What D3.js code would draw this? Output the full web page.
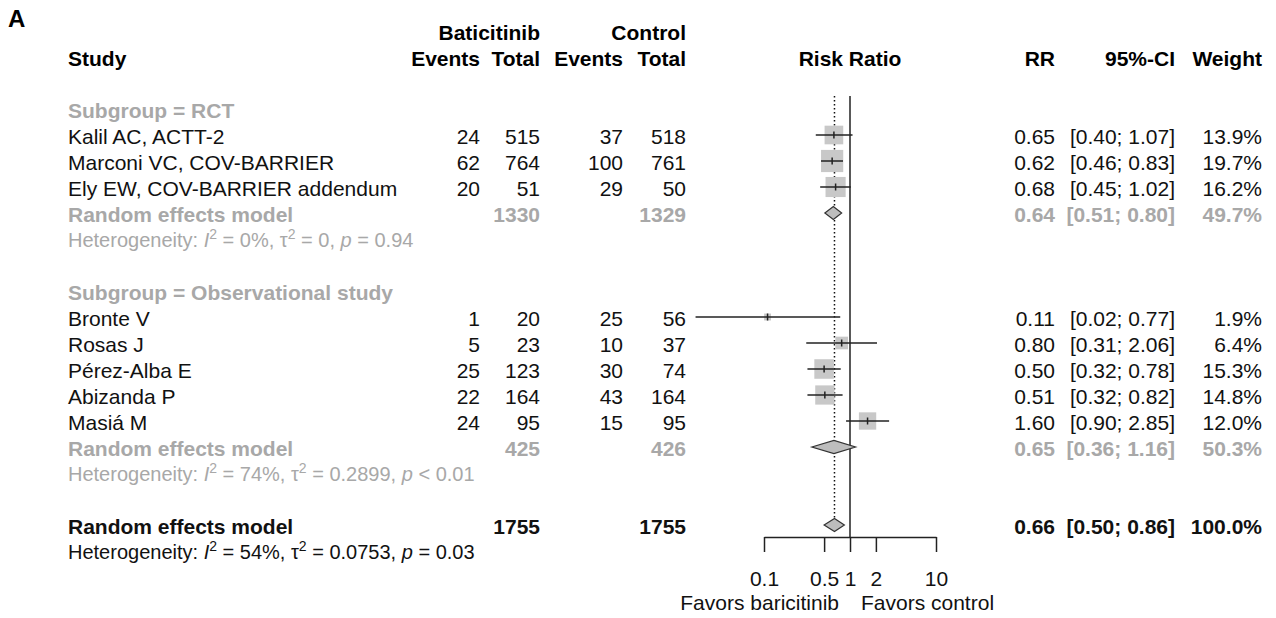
<!DOCTYPE html>
<html>
<head>
<meta charset="utf-8">
<script src="https://cdn.jsdelivr.net/npm/d3@7"></script>
<style>
  body { margin: 0; background: #fff; }
  svg { font-family: "Liberation Sans", Arial, sans-serif; }
</style>
</head>
<body>
<svg></svg>
<script>
// study level data
let studies = ["Kalil AC, ACTT-2", "Marconi VC, COV-BARRIER", "Ely EW, COV-BARRIER addendum",
  "Bronte V", "Rosas J", "Pérez-Alba E", "Abizanda P", "Masiá M"];
let studyGroup = [0, 0, 0, 1, 1, 1, 1, 1];
let eventsBari = [24, 62, 20, 1, 5, 25, 22, 24];
let totalBari = [515, 764, 51, 20, 23, 123, 164, 95];
let eventsCtrl = [37, 100, 29, 25, 10, 30, 43, 15];
let totalCtrl = [518, 761, 50, 56, 37, 74, 164, 95];
let rr = [0.65, 0.62, 0.68, 0.11, 0.80, 0.50, 0.51, 1.60];
let ciLow = [0.40, 0.46, 0.45, 0.016, 0.31, 0.32, 0.32, 0.90];
let ciHigh = [1.07, 0.83, 1.02, 0.77, 2.06, 0.78, 0.82, 2.85];
let weight = [13.9, 19.7, 16.2, 1.9, 6.4, 15.3, 14.8, 12.0];

// subgroup summaries
let groups = ["RCT", "Observational study"];
let groupTotalBari = [1330, 425];
let groupTotalCtrl = [1329, 426];
let groupRR = [0.64, 0.65];
let groupLow = [0.51, 0.36];
let groupHigh = [0.80, 1.16];
let groupWeight = [49.7, 50.3];

// overall summary
let overallTotalBari = 1755;
let overallTotalCtrl = 1755;
let overallRR = 0.66;
let overallLow = 0.50;
let overallHigh = 0.86;
let overallWeight = 100.0;

// heterogeneity: subgroup RCT, subgroup observational, overall
let hetI2 = ["0%", "74%", "54%"];
let hetTau2 = ["0", "0.2899", "0.0753"];
let hetP = ["= 0.94", "< 0.01", "= 0.03"];

let tickValues = [0.1, 0.5, 1, 2, 10];

let width = 1276;
let height = 618;
let grey = "#a8a8a8";
let fs = 21;

let svg = d3.select("svg").attr("width", width).attr("height", height);

let xScale = d3.scaleLog().domain([0.1, 10]).range([764, 936]);
let yScale = d3.scaleLinear().domain([0, 1]).range([109, 135]);

// build the rows
let rows = [];
let r = 0;
groups.forEach((g, gi) => {
  rows.push({ type: "subgroup", row: r++, label: "Subgroup = " + g });
  studies.forEach((s, i) => {
    if (studyGroup[i] !== gi) return;
    rows.push({ type: "study", row: r++, label: s, eb: eventsBari[i], tb: totalBari[i],
      ec: eventsCtrl[i], tc: totalCtrl[i], rr: rr[i], lo: ciLow[i], hi: ciHigh[i], w: weight[i] });
  });
  rows.push({ type: "groupsum", row: r++, label: "Random effects model", tb: groupTotalBari[gi],
    tc: groupTotalCtrl[gi], rr: groupRR[gi], lo: groupLow[gi], hi: groupHigh[gi], w: groupWeight[gi] });
  rows.push({ type: "het", row: r++, h: gi });
  r++;
});
rows.push({ type: "overall", row: r++, label: "Random effects model", tb: overallTotalBari,
  tc: overallTotalCtrl, rr: overallRR, lo: overallLow, hi: overallHigh, w: overallWeight });
rows.push({ type: "het", row: r++, h: 2 });

let overallRow = rows.find(d => d.type === "overall").row;

// panel letter
svg.append("text").attr("x", 8).attr("y", 27)
  .attr("font-size", 24).attr("font-weight", "bold").text("A");

// column headers
let header = svg.append("g").attr("font-weight", "bold").attr("font-size", fs);
let hy1 = yScale(-3) + 9;
let hy2 = yScale(-2) + 9;
header.append("text").attr("x", 540).attr("y", hy1).attr("text-anchor", "end").text("Baticitinib");
header.append("text").attr("x", 686).attr("y", hy1).attr("text-anchor", "end").text("Control");
header.append("text").attr("x", 68).attr("y", hy2).text("Study");
[["Events", 480], ["Total", 540], ["Events", 623], ["Total", 686], ["RR", 1055], ["95%-CI", 1175], ["Weight", 1262]]
  .forEach(h => {
    header.append("text").attr("x", h[1]).attr("y", hy2).attr("text-anchor", "end").text(h[0]);
  });
header.append("text").attr("x", xScale(1)).attr("y", hy2).attr("text-anchor", "middle").text("Risk Ratio");

// reference lines
svg.append("line")
  .attr("x1", xScale(overallRR)).attr("x2", xScale(overallRR))
  .attr("y1", yScale(-0.5)).attr("y2", yScale(overallRow) - 6)
  .attr("stroke", "#111").attr("stroke-width", 1.5).attr("stroke-dasharray", "1.5,2.5");

svg.append("line")
  .attr("x1", xScale(1)).attr("x2", xScale(1))
  .attr("y1", yScale(-0.5)).attr("y2", 537)
  .attr("stroke", "#222").attr("stroke-width", 1.5);

// text columns
let fmt2 = d3.format(".2f");
let fmtW = d => d.toFixed(1) + "%";
let ciText = (lo, hi) => "[" + fmt2(lo) + "; " + fmt2(hi) + "]";

let textRows = svg.append("g").attr("font-size", fs);

rows.forEach(d => {
  let ty = yScale(d.row) + 9;
  if (d.type === "het") {
    let t = textRows.append("text").attr("x", 68).attr("y", yScale(d.row) + 8)
      .attr("font-size", 20).attr("fill", d.h < 2 ? grey : "#111");
    t.append("tspan").text("Heterogeneity: ");
    t.append("tspan").attr("font-style", "italic").text("I");
    t.append("tspan").attr("font-size", 14).attr("dy", -8).text("2");
    t.append("tspan").attr("dy", 8).text(" = " + hetI2[d.h] + ", \u03c4");
    t.append("tspan").attr("font-size", 14).attr("dy", -8).text("2");
    t.append("tspan").attr("dy", 8).text(" = " + hetTau2[d.h] + ", ");
    t.append("tspan").attr("font-style", "italic").text("p");
    t.append("tspan").text(" " + hetP[d.h]);
    return;
  }
  let color = (d.type === "subgroup" || d.type === "groupsum") ? grey : "#111";
  let bold = d.type === "study" ? "normal" : "bold";
  let g = textRows.append("g").attr("fill", color).attr("font-weight", bold);
  g.append("text").attr("x", 68).attr("y", ty).text(d.label);
  if (d.type === "subgroup") return;
  let cells = [];
  if (d.type === "study") cells.push([d.eb, 480], [d.ec, 623]);
  cells.push([d.tb, 540], [d.tc, 686], [fmt2(d.rr), 1055], [ciText(d.lo, d.hi), 1175], [fmtW(d.w), 1262]);
  cells.forEach(c => {
    g.append("text").attr("x", c[1]).attr("y", ty).attr("text-anchor", "end").text(c[0]);
  });
});

// study squares and CIs
let studyRows = rows.filter(d => d.type === "study");
let marks = svg.append("g");

marks.selectAll("rect")
  .data(studyRows)
  .enter()
  .append("rect")
  .attr("x", d => xScale(d.rr) - 2.5 * Math.sqrt(d.w))
  .attr("y", d => yScale(d.row) - 2.5 * Math.sqrt(d.w))
  .attr("width", d => 5 * Math.sqrt(d.w))
  .attr("height", d => 5 * Math.sqrt(d.w))
  .attr("fill", "#c8c8c8");

marks.selectAll("line.ci")
  .data(studyRows)
  .enter()
  .append("line")
  .attr("class", "ci")
  .attr("x1", d => xScale(d.lo))
  .attr("x2", d => xScale(d.hi))
  .attr("y1", d => yScale(d.row))
  .attr("y2", d => yScale(d.row))
  .attr("stroke", "#222").attr("stroke-width", 1.5);

marks.selectAll("line.pt")
  .data(studyRows)
  .enter()
  .append("line")
  .attr("class", "pt")
  .attr("x1", d => xScale(d.rr))
  .attr("x2", d => xScale(d.rr))
  .attr("y1", d => yScale(d.row) - 3.5)
  .attr("y2", d => yScale(d.row) + 3.5)
  .attr("stroke", "#222").attr("stroke-width", 1.5);

// diamonds
let diamondRows = rows.filter(d => d.type === "groupsum" || d.type === "overall");
marks.selectAll("path.diamond")
  .data(diamondRows)
  .enter()
  .append("path")
  .attr("class", "diamond")
  .attr("d", d => {
    let yy = yScale(d.row), h = 6.5;
    return "M" + xScale(d.lo) + "," + yy + "L" + xScale(d.rr) + "," + (yy - h) +
      "L" + xScale(d.hi) + "," + yy + "L" + xScale(d.rr) + "," + (yy + h) + "Z";
  })
  .attr("fill", "#bdbdbd").attr("stroke", "#333").attr("stroke-width", 1.2);

// x axis
let xAxis = d3.axisBottom(xScale)
  .tickValues(tickValues)
  .tickFormat(d => String(d))
  .tickSize(15)
  .tickSizeOuter(0)
  .tickPadding(19);

let axisG = svg.append("g")
  .attr("transform", "translate(0, 537)")
  .call(xAxis);
axisG.selectAll("path, line").attr("stroke", "#222").attr("stroke-width", 1.5);
axisG.selectAll("text").attr("font-size", fs).attr("fill", "#111")
  .attr("font-family", "'Liberation Sans', Arial, sans-serif");

svg.append("text").attr("x", xScale(1) - 11).attr("y", 610).attr("font-size", fs)
  .attr("text-anchor", "end").attr("fill", "#111").text("Favors baricitinib");
svg.append("text").attr("x", xScale(1) + 11).attr("y", 610).attr("font-size", fs)
  .attr("fill", "#111").text("Favors control");
</script>
</body>
</html>
